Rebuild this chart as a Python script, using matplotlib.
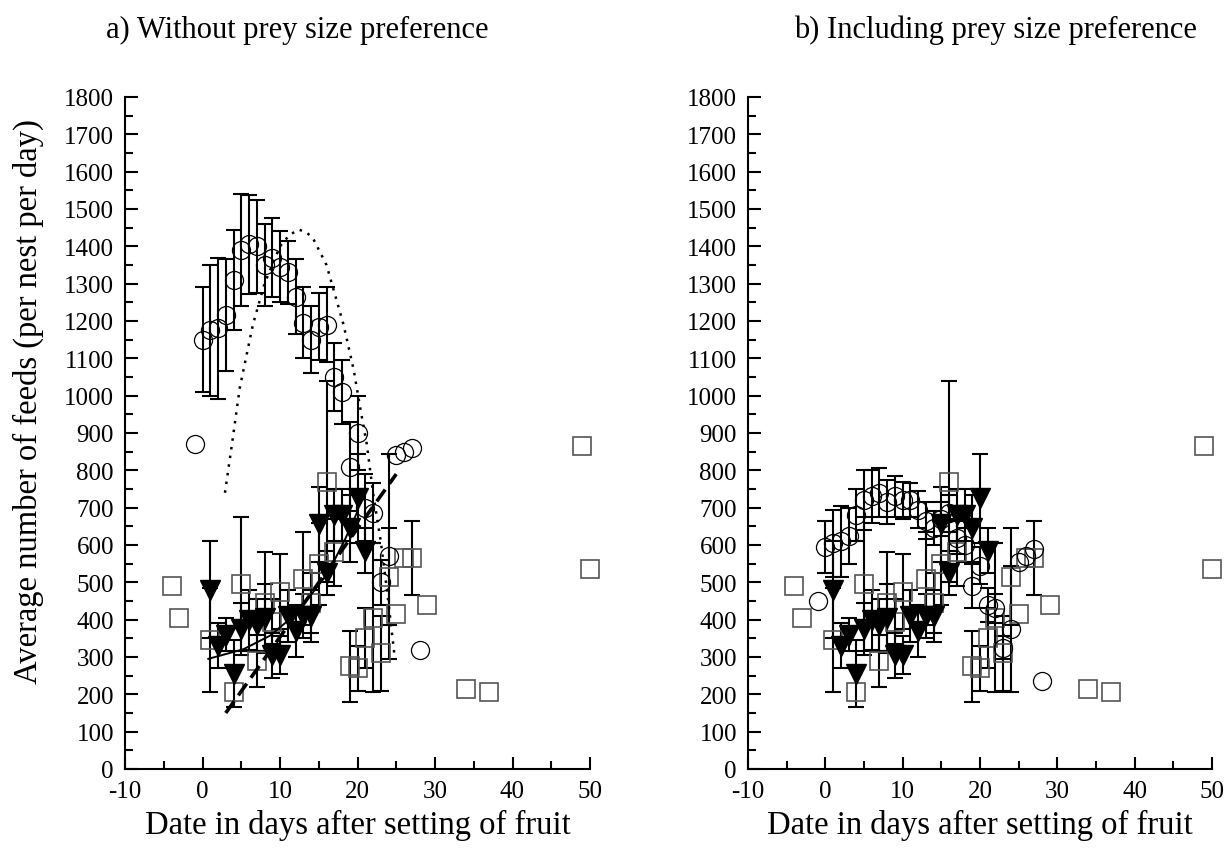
import numpy as np
import matplotlib
matplotlib.use('Agg')
from matplotlib import pyplot as plt
from matplotlib.ticker import MultipleLocator

plt.rcParams['font.family'] = ['Liberation Serif', 'DejaVu Serif']
plt.rcParams['axes.unicode_minus'] = False

# circles: a) without / b) including prey size preference
days_circ = [-1, 0, 1, 2, 3, 4, 5, 6, 7, 8, 9, 10, 11, 12, 13, 14,
             15, 16, 17, 18, 19, 20, 21, 22, 23, 24, 25, 26, 27, 28]
feeds_a = [870, 1150, 1175, 1180, 1215, 1310, 1390, 1405, 1400, 1350, 1370, 1345, 1330, 1265, 1195, 1150,
           1185, 1190, 1050, 1010, 810, 900, 700, 685, 500, 570, 840, 850, 860, 320]
err_a = [0, 140, 175, 190, 150, 135, 150, 133, 125, 110, 105, 95, 85, 100, 95, 90,
         90, 100, 90, 85, 120, 100, 90, 80, 60, 275, 0, 0, 0, 0]
feeds_b = [450, 595, 605, 610, 625, 680, 720, 730, 740, 715, 730, 720, 720, 695, 665, 645,
           670, 685, 620, 600, 490, 545, 440, 430, 325, 375, 555, 570, 590, 235]
err_b = [0, 70, 90, 95, 75, 70, 80, 70, 65, 60, 55, 50, 45, 50, 50, 45,
         45, 50, 45, 45, 60, 50, 45, 40, 30, 170, 0, 0, 0, 0]

# filled triangles (same in both panels)
days_tri = [1, 2, 3, 4, 5, 6, 7, 8, 9, 10, 11, 12, 13, 14, 15, 16, 17, 18, 19, 20, 21]
feeds_tri = [480, 330, 360, 255, 375, 400, 385, 405, 305, 305, 410, 370, 410, 410, 655, 525, 680, 680, 645, 725, 585]
err_tri = [130, 60, 45, 90, 70, 80, 70, 90, 60, 50, 70, 70, 60, 70, 100, 60, 70, 70, 90, 120, 60]

# open squares (same in both panels)
days_sq = [-4, -3, 1, 4, 5, 7, 8, 9, 10, 13, 14, 15, 16, 17, 19, 20, 21, 22, 23, 24, 25, 26, 27, 29, 34, 37, 49, 50]
feeds_sq = [490, 405, 345, 205, 495, 290, 445, 395, 475, 510, 445, 550, 770, 580, 275, 270, 350, 405, 310, 515,
            415, 565, 565, 440, 215, 205, 865, 535]
err_sq = [0, 0, 140, 0, 180, 70, 135, 60, 100, 125, 80, 110, 270, 90, 95, 60, 80, 200, 100, 130,
          0, 0, 100, 0, 0, 0, 0, 0]

# fitted curves, panel a only
dotted_x = [2.9, 3.8, 4.8, 6.5, 8, 10, 11.2, 12.4, 13.4, 14.3, 16, 18.2, 19.5, 20.5, 21.2, 22, 23, 23.8, 24.8]
dotted_y = [740, 870, 1020, 1190, 1300, 1400, 1430, 1445, 1438, 1420, 1350, 1190, 1070, 950, 870, 740, 610, 480, 300]
solid_x = [0.75, 5.3, 8.7, 11.3, 13.4, 15.6, 16.9, 18.5, 20]
solid_y = [295, 321, 357, 402, 451, 509, 554, 620, 690]
dashed_x = [3, 25]
dashed_y = [150, 790]

titles = ['a) Without prey size preference', 'b) Including prey size preference']
xlabel = 'Date in days after setting of fruit'
ylabel = 'Average number of feeds (per nest per day)'


def errs(ax, x, y, e):
    x = np.array(x, float)
    y = np.array(y, float)
    e = np.array(e, float)
    m = e > 0
    ax.errorbar(x[m], y[m], yerr=e[m], fmt='none', ecolor='black',
                elinewidth=1.5, capsize=6, capthick=1.5, zorder=2, clip_on=False)


fig = plt.figure(figsize=(12.29, 8.53), dpi=100)
ax1 = fig.add_axes([125 / 1229, 1 - 770 / 853, 465 / 1229, 672 / 853])
ax2 = fig.add_axes([748 / 1229, 1 - 770 / 853, 464 / 1229, 672 / 853])

for ax, feeds, err in [(ax1, feeds_a, err_a), (ax2, feeds_b, err_b)]:
    errs(ax, days_sq, feeds_sq, err_sq)
    errs(ax, days_tri, feeds_tri, err_tri)
    errs(ax, days_circ, feeds, err)
    ax.plot(days_sq, feeds_sq, 's', ms=12.5, mfc='none', mec='#555555', mew=1.2, zorder=3, clip_on=False)
    ax.plot(days_tri, feeds_tri, 'v', ms=15, mfc='black', mec='black', zorder=4, clip_on=False)
    ax.plot(days_circ, feeds, 'o', ms=13, mfc='none', mec='black', mew=0.9, zorder=5, clip_on=False)

    ax.set_xlim(-10, 50)
    ax.set_ylim(0, 1800)
    ax.xaxis.set_major_locator(MultipleLocator(10))
    ax.xaxis.set_minor_locator(MultipleLocator(5))
    ax.yaxis.set_major_locator(MultipleLocator(100))
    ax.yaxis.set_minor_locator(MultipleLocator(50))
    ax.tick_params(which='both', direction='in', width=1.5, labelsize=18, top=False, right=False)
    ax.tick_params(which='major', length=9, pad=8)
    ax.tick_params(which='minor', length=5.5)
    for s in ['top', 'right']:
        ax.spines[s].set_visible(False)
    for s in ['left', 'bottom']:
        ax.spines[s].set_linewidth(1.5)
    ax.set_xlabel(xlabel, fontsize=23.5, labelpad=5)

ax1.plot(dotted_x, dotted_y, color='black', lw=1.8, dashes=(1, 2.5), zorder=6)
ax1.plot(solid_x, solid_y, color='black', lw=1.4, zorder=6)
ax1.plot(dashed_x, dashed_y, color='black', lw=2.6, dashes=(4, 2), zorder=6)

fig.text(297 / 1229, 1 - 30 / 853, titles[0], fontsize=22, ha='center', va='center')
fig.text(995 / 1229, 1 - 30 / 853, titles[1], fontsize=22, ha='center', va='center')
fig.text(28 / 1229, 1 - 402 / 853, ylabel, fontsize=23.5, rotation=90, ha='center', va='center')

fig.savefig('out.png', dpi=100)
